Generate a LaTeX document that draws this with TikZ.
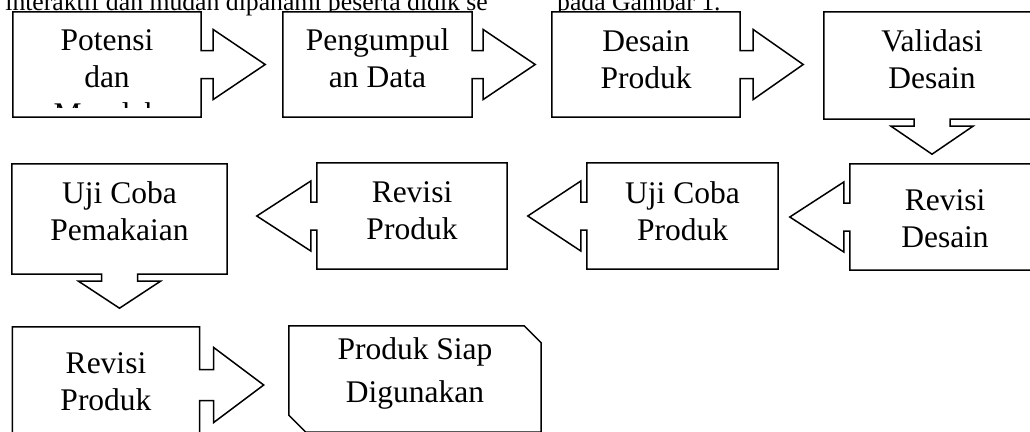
\documentclass[tikz,border=0pt]{standalone}
\usepackage{fontspec}
\setmainfont{Liberation Serif}
\usetikzlibrary{calc}

\newcommand{\rightCallout}[5]{%
  \draw[calloutLine] (#1.north west) -- (#1.north east) -- ($(#1.east)+(0,-#4)$)
    -- ($(#1.east)+(#2,-#4)$) -- ($(#1.east)+(#2,-#5)$) -- ($(#1.east)+(#3,0)$)
    -- ($(#1.east)+(#2,#5)$) -- ($(#1.east)+(#2,#4)$) -- ($(#1.east)+(0,#4)$)
    -- (#1.south east) -- (#1.south west) -- cycle;}
\newcommand{\leftCallout}[3]{%
  \draw[calloutLine] (#1.north east) -- (#1.north west) -- ($(#1.west)+(0,-14)$)
    -- ($(#1.west)+(-#2,-14)$) -- ($(#1.west)+(-#2,-35)$) -- ($(#1.west)+(-#3,0)$)
    -- ($(#1.west)+(-#2,35)$) -- ($(#1.west)+(-#2,14)$) -- ($(#1.west)+(0,14)$)
    -- (#1.south west) -- (#1.south east) -- cycle;}
\newcommand{\downCallout}[2]{%
  \draw[calloutLine] (#1.north west) -- (#1.north east) -- (#1.south east)
    -- ($(#1.south)+(18,0)$) -- ($(#1.south)+(18,7)$) -- ($(#1.south)+(41,7)$)
    -- ($(#1.south)+(0,#2)$) -- ($(#1.south)+(-41,7)$) -- ($(#1.south)+(-18,7)$)
    -- ($(#1.south)+(-18,0)$) -- (#1.south west) -- cycle;}

\begin{document}
\begin{tikzpicture}
[x=1bp, y=-1bp,
  boxNode/.style={inner sep=0pt, minimum width=#1, minimum height=105bp},
  calloutLine/.style={draw, fill=white, line width=1.5bp, line join=miter},
  labelText/.style={anchor=base, align=center, inner sep=0pt,
    font=\fontsize{31.5bp}{37bp}\selectfont},
  pageText/.style={inner sep=0pt, font=\fontsize{25.7bp}{30bp}\selectfont}]
\useasboundingbox (0,0) rectangle (1030,431);
\clip (0,0) rectangle (1030,431);
\node[pageText, anchor=base east] (kalimatA) at (488,10)
  {interaktif dan mudah dipahami peserta didik se};
\node[pageText, anchor=base west] (kalimatB) at (557,10) {pada Gambar 1.};

\node[boxNode=188bp] (pot) at (107,64.5) {};
\node[boxNode=189bp] (kumpul) at (377.5,64.5) {};
\node[boxNode=188bp] (desain) at (646,64.5) {};
\node[boxNode=216bp, minimum height=107bp] (valid) at (932,65.5) {};
\node[boxNode=190bp, minimum height=106bp] (revDesain) at (945,217) {};
\node[boxNode=191bp, minimum height=106bp] (ujiProduk) at (682.5,216) {};
\node[boxNode=190bp, minimum height=106bp] (revProduk) at (412,216) {};
\node[boxNode=215bp, minimum height=110bp] (ujiPakai) at (119.5,219) {};
\node[boxNode=187bp, minimum height=116bp] (revProdukDua) at (106,385) {};
\node[boxNode=252bp, minimum height=106bp] (siap) at (415,379) {};

\foreach \boxName/\stemLen/\tipLen/\stemHalf/\headHalf in {
  pot/12/64/14/35, kumpul/11/63/14/35, desain/13/63/14/35,
  revProdukDua/14/64/15.5/37.5}
{
  \rightCallout{\boxName}{\stemLen}{\tipLen}{\stemHalf}{\headHalf}
}
\foreach \boxName/\stemLen/\tipLen in {
  revDesain/6/60, ujiProduk/6/59, revProduk/6/60}
{
  \leftCallout{\boxName}{\stemLen}{\tipLen}
}
\downCallout{valid}{35}
\downCallout{ujiPakai}{34}
\draw[calloutLine] (siap.north west) -- ($(siap.north east)+(-17,0)$)
  -- ($(siap.north east)+(0,17)$) -- (siap.south east)
  -- ($(siap.south west)+(17,0)$) -- ($(siap.south west)+(0,-17)$) -- cycle;

\begin{scope}
\clip (pot.north west) rectangle ($(pot.south east)+(0,-10)$);
\node[labelText] (potText) at ($(pot.north)+(0,113)$) {Potensi\\dan\\Masalah};
\end{scope}
\node[labelText] (kumpulText) at ($(kumpul.north)+(0,76)$) {Pengumpul\\an Data};
\node[labelText] (desainText) at ($(desain.north)+(0,77)$) {Desain\\Produk};
\node[labelText] (validText) at ($(valid.north)+(0,77)$) {Validasi\\Desain};
\node[labelText] (revDesainText) at ($(revDesain.north)+(0,84)$) {Revisi\\Desain};
\node[labelText] (ujiProdukText) at ($(ujiProduk.north)+(0,78)$) {Uji Coba\\Produk};
\node[labelText] (revProdukText) at ($(revProduk.north)+(0,77)$) {Revisi\\Produk};
\node[labelText] (ujiPakaiText) at ($(ujiPakai.north)+(0,77)$) {Uji Coba\\Pemakaian};
\node[labelText] (revProdukDuaText) at ($(revProdukDua.north)+(0,84)$) {Revisi\\Produk};
\begin{scope}
\clip (siap.north west) rectangle ($(siap.south east)+(0,-23)$);
\node[labelText, font=\fontsize{31.5bp}{43bp}\selectfont] (siapText)
  at ($(siap.north)+(0,77)$) {Produk Siap\\Digunakan};
\end{scope}
\end{tikzpicture}
\end{document}
